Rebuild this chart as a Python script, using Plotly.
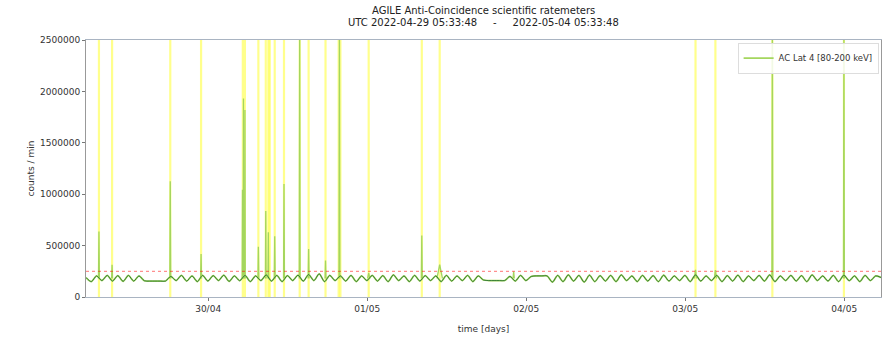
import pandas as pd
import plotly.graph_objects as go
from datetime import timedelta

T_START = "2022-04-29 05:33:48"
T_END = "2022-05-04 05:33:48"

TITLE_1 = "AGILE Anti-Coincidence scientific ratemeters"
TITLE_2 = "UTC 2022-04-29 05:33:48     -     2022-05-04 05:33:48"

# Baseline (background) rate, sampled every 48 min from T_START
baseline = [
    190000, 150000, 205000, 160000, 210000, 155000, 208000, 152000, 210000, 155000, 205000, 158000,
    155000, 155000, 155000, 155000,
    200000, 160000, 210000, 155000, 205000, 150000, 210000, 155000, 208000, 160000, 212000, 152000, 205000, 158000, 210000,
    150000, 205000, 160000, 215000, 155000, 210000, 150000, 208000, 160000, 212000, 155000, 218000, 160000, 225000, 150000,
    210000, 160000, 205000, 155000, 210000, 150000, 205000, 160000, 210000, 155000, 208000, 150000, 215000, 160000, 205000,
    150000, 210000, 155000, 208000, 160000, 205000, 150000, 210000, 155000, 205000, 160000, 210000, 150000, 205000, 165000,
    160000, 160000, 160000, 160000,
    200000, 155000, 210000, 160000, 200000,
    205000, 205000, 205000,
    145000, 210000, 150000, 215000, 155000, 210000, 145000, 212000, 150000, 208000,
    155000, 210000, 150000, 215000, 160000, 205000, 150000, 210000, 155000, 208000,
    150000, 212000, 155000, 205000, 160000, 210000, 150000, 215000, 155000, 205000,
    160000, 210000, 150000, 208000, 155000, 212000, 150000, 205000, 160000, 210000,
    155000, 215000, 150000, 205000, 160000, 210000, 155000, 208000, 150000, 215000,
    160000, 205000, 155000, 210000, 150000, 212000, 158000, 205000, 150000, 210000,
    160000, 205000, 190000,
]

# Transient spikes: time, peak value
spike_times = [
    "2022-04-29 07:31", "2022-04-29 09:30", "2022-04-29 18:17", "2022-04-29 22:56",
    "2022-04-30 05:11", "2022-04-30 05:20", "2022-04-30 05:33", "2022-04-30 07:35",
    "2022-04-30 08:42", "2022-04-30 09:05", "2022-04-30 10:03", "2022-04-30 11:27",
    "2022-04-30 13:49", "2022-04-30 15:10", "2022-04-30 17:43", "2022-04-30 19:49",
    "2022-05-01 00:14", "2022-05-01 08:15", "2022-05-01 10:57", "2022-05-01 22:07",
    "2022-05-03 01:34", "2022-05-03 04:34", "2022-05-03 13:10", "2022-05-03 23:58",
]
spike_peaks = [
    637000, 314000, 1125000, 418000,
    1043000, 1930000, 1820000, 488000,
    836000, 630000, 590000, 1100000,
    2700000, 466000, 355000, 2700000,
    235000, 599000, 314000, 247000,
    265000, 262000, 2700000, 2700000,
]
spike_halfwidth_min = [
    4, 4, 4, 4,
    3, 3, 3, 4,
    3, 3, 4, 4,
    4, 4, 4, 4,
    10, 4, 25, 6,
    10, 10, 4, 4,
]
spike_base = 180000

# Trigger markers (yellow vertical lines)
trigger_times = [
    "2022-04-29 07:31", "2022-04-29 09:30", "2022-04-29 18:17", "2022-04-29 22:56",
    "2022-04-30 05:14", "2022-04-30 05:33", "2022-04-30 07:35", "2022-04-30 08:42",
    "2022-04-30 09:05", "2022-04-30 09:18", "2022-04-30 10:03", "2022-04-30 11:27",
    "2022-04-30 13:49", "2022-04-30 15:10", "2022-04-30 17:43", "2022-04-30 19:42",
    "2022-04-30 19:58", "2022-05-01 00:14", "2022-05-01 08:15", "2022-05-01 10:57",
    "2022-05-03 01:34", "2022-05-03 04:34", "2022-05-03 13:10", "2022-05-03 23:58",
]

threshold = 250000

y_ticks = [0, 500000, 1000000, 1500000, 2000000, 2500000]

t_base = pd.date_range(T_START, periods=len(baseline), freq="48min")

sx, sy = [], []
for t, p, w in zip(spike_times, spike_peaks, spike_halfwidth_min):
    tt = pd.Timestamp(t)
    sx += [tt - timedelta(minutes=w), tt, tt + timedelta(minutes=w), None]
    sy += [spike_base, p, spike_base, None]

LIGHT = "#a4d65e"
DARK = "rgba(30,105,45,0.8)"

fig = go.Figure()
fig.add_trace(go.Scatter(x=t_base, y=baseline, mode="lines",
                         line=dict(color=LIGHT, width=1.7, shape="spline", smoothing=0.8),
                         name="AC Lat 4 [80-200 keV]", legendgroup="a"))
fig.add_trace(go.Scatter(x=sx, y=sy, mode="lines", line=dict(color=LIGHT, width=1.3),
                         showlegend=False, legendgroup="a", connectgaps=False))
fig.add_trace(go.Scatter(x=t_base, y=baseline, mode="lines",
                         line=dict(color=DARK, width=1.0, shape="spline", smoothing=0.8),
                         showlegend=False))

for t in trigger_times:
    fig.add_shape(type="line", xref="x", yref="paper", x0=t, x1=t, y0=0, y1=1,
                  line=dict(color="rgba(255,255,0,0.45)", width=2.2), layer="below")

fig.add_shape(type="line", xref="paper", yref="y", x0=0, x1=1, y0=threshold, y1=threshold,
              line=dict(color="rgba(255,0,0,0.55)", width=1, dash="dot"))

FONT = "DejaVu Sans"
fig.add_annotation(text=TITLE_1, xref="paper", yref="paper", x=0.5, y=1.114,
                   xanchor="center", yanchor="middle", showarrow=False,
                   font=dict(family=FONT, size=10, color="#222"))
fig.add_annotation(text=TITLE_2, xref="paper", yref="paper", x=0.5, y=1.068,
                   xanchor="center", yanchor="middle", showarrow=False,
                   font=dict(family=FONT, size=10, color="#222"))

fig.update_layout(
    width=887, height=337,
    margin=dict(l=86, r=5, t=40, b=34),
    paper_bgcolor="white", plot_bgcolor="white",
    font=dict(family=FONT, size=9, color="#333"),
    showlegend=True,
    legend=dict(x=0.997, y=0.99, xanchor="right", yanchor="top",
                bgcolor="rgba(255,255,255,0.85)", bordercolor="#ddd", borderwidth=1,
                font=dict(size=8.5, color="#333"), itemwidth=30,
                tracegroupgap=0),
    xaxis=dict(range=[T_START, T_END], tickformat="%d/%m", dtick=86400000,
               tick0="2022-04-30", showgrid=False, zeroline=False,
               showline=True, linecolor="#a9b4c2", linewidth=1, mirror=True,
               ticks="outside", ticklen=3, tickcolor="#777",
               title=dict(text="time [days]", font=dict(size=9), standoff=12)),
    yaxis=dict(range=[0, 2500000], tickvals=y_ticks,
               ticktext=[str(v) for v in y_ticks], showgrid=False, zeroline=False,
               showline=True, linecolor="#999", linewidth=1, mirror=True,
               ticks="outside", ticklen=3, tickcolor="#777",
               title=dict(text="counts / min", font=dict(size=9), standoff=3)),
)

fig.write_html("out.html")
